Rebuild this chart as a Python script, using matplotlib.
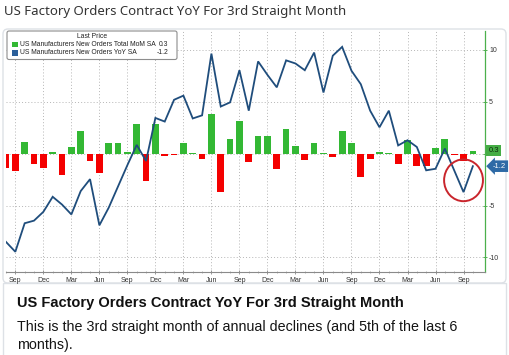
import matplotlib
matplotlib.use("Agg")
import matplotlib.pyplot as plt
import matplotlib.transforms as mtransforms
from matplotlib.patches import FancyBboxPatch, Ellipse, Rectangle
import numpy as np
import pandas as pd

# ---------------- data ----------------
start_month = "2015-08"
mom = [-1.4, -1.70, 1.15, -0.96, -1.41, 0.16, -2.05, 0.64, 2.18, -0.70,
       -1.82, 0.99, 1.06, 0.16, 2.88, -2.62, 2.82, -0.22, -0.10, 1.06,
       0.05, -0.54, 3.80, -3.65, 1.38, 3.13, -0.77, 1.73, 1.73, -1.50,
       2.40, 0.74, -0.58, 0.99, 0.05, -0.32, 2.18, 0.99, -2.24, -0.48,
       0.19, 0.05, -0.96, 1.28, -1.18, -1.18, 0.54, 1.38, -0.10, -0.70,
       0.3]
yoy = [-8.5, -9.45, -6.7, -6.45, -5.6, -4.15, -4.9, -5.85, -3.6, -2.45,
       -6.9, -5.2, -3.15, -1.1, 0.85, -0.7, 3.45, 3.1, 5.2, 5.6,
       3.4, 3.7, 9.65, 4.55, 4.95, 8.05, 4.15, 8.9, 7.6, 6.4,
       9.0, 8.7, 8.05, 9.75, 5.9, 9.45, 10.3, 8.0, 6.7, 4.15,
       2.55, 4.15, 0.8, 1.3, 0.65, -1.6, -1.45, 0.5, -1.6, -3.7,
       -1.2]
series_names = ["US Manufacturers New Orders Total MoM SA",
                "US Manufacturers New Orders YoY SA"]
yticks = [-10, -5, 0, 5, 10]
ytick_labels = ["-10", "-5", "", "5", "10"]
tick_months = [3, 6, 9, 12]
title = "US Factory Orders Contract YoY For 3rd Straight Month"
card_title = "US Factory Orders Contract YoY For 3rd Straight Month"
card_lines = ["This is the 3rd straight month of annual declines (and 5th of the last 6",
              "months)."]

dates = pd.date_range(start_month, periods=len(mom), freq="MS")
xs = np.arange(len(mom))

# ---------------- styles ----------------
GREEN = "#33b834"
RED = "#f40000"
BLUE = "#1f4d7c"
W, H = 510, 355

fig = plt.figure(figsize=(W / 100, H / 100), dpi=100)
fig.patch.set_facecolor("white")

def fx(x):
    return x / W

def fy(y):
    return 1 - y / H

# background axes (pixel coordinates)
bg = fig.add_axes([0, 0, 1, 1], zorder=0)
bg.set_xlim(0, W)
bg.set_ylim(H, 0)
bg.axis("off")
bg.add_patch(FancyBboxPatch((3, 29), 503, 254, boxstyle="round,pad=0,rounding_size=5",
                            fc="white", ec="#dde1e6", lw=1.0))
bg.add_patch(Rectangle((3, 283), 503, 90, fc="white", ec="#dde1e6", lw=1.0, clip_on=False))
bg.text(4, 12, title, fontsize=9.5, family="Noto Sans", color="#333333",
        va="center", ha="left")
bg.text(17, 303, card_title, fontsize=10.5, family="Liberation Sans", weight="bold",
        color="#111111", va="center", ha="left")
for i, line in enumerate(card_lines):
    bg.text(17, 326.5 + 18 * i, line, fontsize=10.25, family="Liberation Sans",
            color="#141414", va="center", ha="left")

# main chart axes
ax = fig.add_axes([fx(6), fy(272), fx(485) - fx(6), fy(31) - fy(272)], zorder=1)
ax.patch.set_alpha(0)
colors = [GREEN if v >= 0 else RED for v in mom]
ax.bar(xs, mom, width=0.72, color=colors, zorder=2)
ax.plot(xs, yoy, color=BLUE, lw=1.3, zorder=3, solid_joinstyle="miter")
ax.set_xlim(0.22, 51.3)
ax.set_ylim(-11.4, 11.83)

major_idx = [i for i, d in enumerate(dates) if d.month in tick_months]
ax.set_xticks(major_idx)
ax.set_xticklabels([dates[i].strftime("%b") for i in major_idx],
                   fontsize=5.0, family="Liberation Sans", color="#333333")
ax.set_xticks(xs, minor=True)
ax.tick_params(axis="x", which="major", direction="inout", length=3.5, width=0.6,
               color="#888888", pad=1.5)
ax.tick_params(axis="x", which="minor", direction="inout", length=1.6, width=0.5,
               color="#999999")

ax.yaxis.tick_right()
ax.set_yticks(yticks)
ax.set_yticklabels(ytick_labels, fontsize=5.0, family="Liberation Sans", color="#333333")
ax.tick_params(axis="y", direction="inout", length=3, width=0.6, color="#3aa63a", pad=1.5)

for s in ["left", "top"]:
    ax.spines[s].set_visible(False)
ax.spines["bottom"].set_color("#8a8a8a")
ax.spines["bottom"].set_linewidth(0.8)
ax.spines["right"].set_color("#4cb04c")
ax.spines["right"].set_linewidth(0.9)

ax.grid(True, which="major", linestyle=(0, (1, 2.2)), color="#b5b5b5", lw=0.7, zorder=0)
ax.set_axisbelow(True)

# last value boxes on right axis
trans = mtransforms.blended_transform_factory(ax.transAxes, ax.transData)
ax.text(1.007, mom[-1], f"{mom[-1]:.1f}", transform=trans, fontsize=5.5,
        family="Liberation Sans", color="#0d2a0d", va="center", ha="left",
        bbox=dict(boxstyle="square,pad=0.3", fc="#45ad45", ec="none"), clip_on=False)
ax.text(1.016, yoy[-1], f"{yoy[-1]:.1f}", transform=trans, fontsize=5.5,
        family="Liberation Sans", color="white", va="center", ha="left",
        bbox=dict(boxstyle="larrow,pad=0.3", fc="#2e6aa6", ec="none"), clip_on=False)

# red circle around last dip
imin = len(yoy) - 2
ax.add_patch(Ellipse((imin, yoy[imin] + 1.14), 4.16, 4.03, fill=False,
                     ec="#c9252c", lw=1.4, zorder=4, clip_on=False))

# legend (pixel coordinates)
fg = fig.add_axes([0, 0, 1, 1], zorder=3)
fg.set_xlim(0, W)
fg.set_ylim(H, 0)
fg.axis("off")
fg.add_patch(FancyBboxPatch((7, 31), 170, 28.5, boxstyle="round,pad=0,rounding_size=2",
                            fc="white", ec="#8d8d8d", lw=0.8))
fg.text(92, 36, "Last Price", fontsize=4.9, family="Liberation Sans", color="#222222",
        ha="center", va="center")
for k, (name, col, val) in enumerate(zip(series_names, [GREEN, "#2b5f9a"],
                                         [mom[-1], yoy[-1]])):
    yy = 44.7 + 8.3 * k
    fg.add_patch(Rectangle((12.5, yy - 2.6), 5.3, 5.2, fc=col, ec="none"))
    fg.text(20.5, yy, name, fontsize=4.9, family="Liberation Sans", color="#222222",
            ha="left", va="center")
    fg.text(168, yy, f"{val:.1f}", fontsize=4.9, family="Liberation Sans",
            color="#222222", ha="right", va="center")

fig.savefig("out.png", dpi=100, facecolor="white")
